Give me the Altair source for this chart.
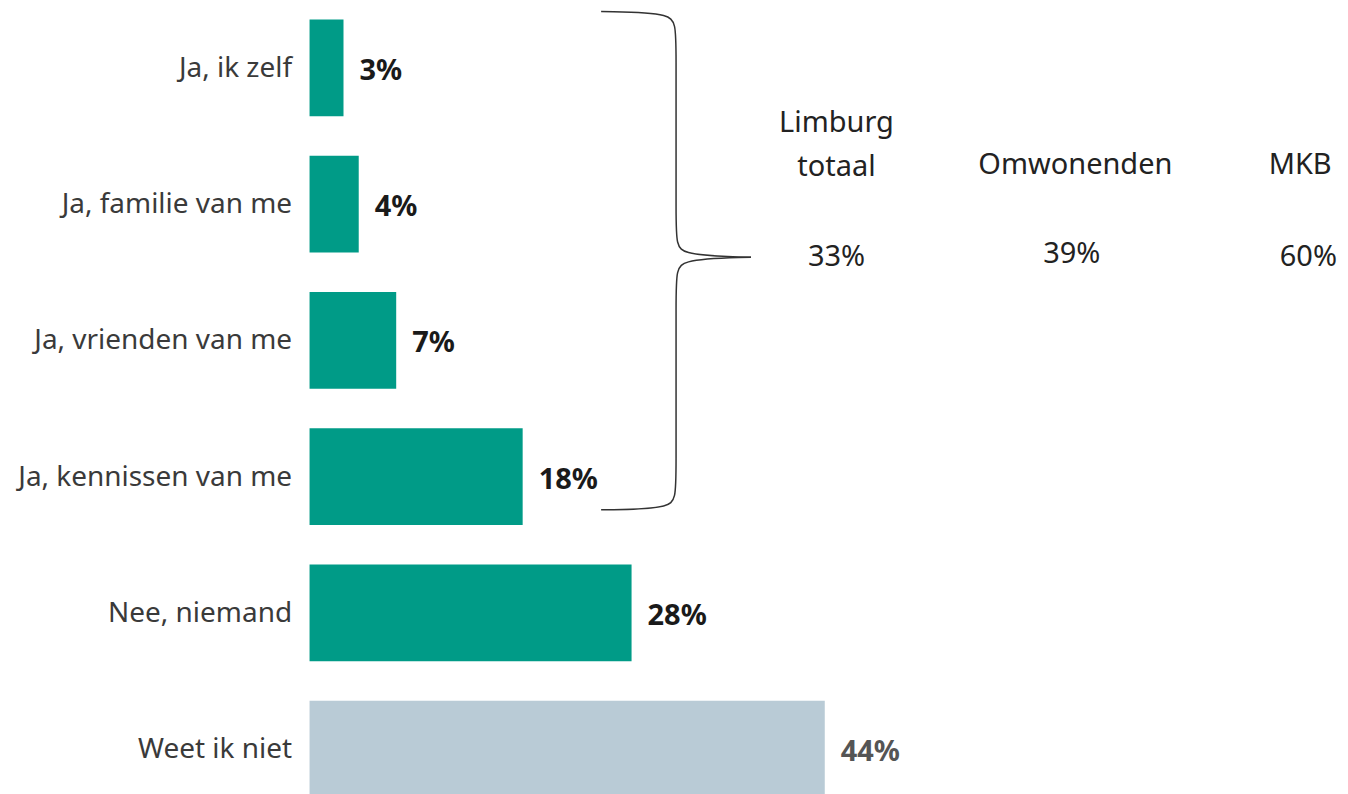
import altair as alt
import pandas as pd

# --- data ---
categories = ["Ja, ik zelf", "Ja, familie van me", "Ja, vrienden van me",
              "Ja, kennissen van me", "Nee, niemand", "Weet ik niet"]
values = [2.9, 4.2, 7.4, 18.2, 27.5, 44.0]
value_labels = ["3%", "4%", "7%", "18%", "28%", "44%"]
groups = ["teal", "teal", "teal", "teal", "teal", "grey"]
bar_colors = ["#009B87", "#009B87", "#009B87", "#009B87", "#009B87", "#B9CBD6"]
label_colors = ["#1a1a1a", "#1a1a1a", "#1a1a1a", "#1a1a1a", "#1a1a1a", "#555555"]

# right-hand comparison block
cmp_text = ["Limburg", "totaal", "Omwonenden", "MKB", "33%", "39%", "60%"]
cmp_x = [45.0, 45.0, 65.4, 84.6, 45.0, 65.1, 85.3]      # in % units of the bar axis
cmp_y = [114, 158, 156, 156, 248, 245, 248]            # pixel rows of the annotation layer

# curly brace (annotation), x in % units, y in annotation pixel rows
brace_x = [24.9, 31.3, 31.3, 31.3, 31.3, 37.7,
           37.7, 31.3, 31.3, 31.3, 31.3, 24.9]
brace_y = [2, 3, 22, 228, 246, 248,
           248, 250, 268, 482, 500, 501]
brace_part = ["top"] * 6 + ["bottom"] * 6
brace_order = list(range(12))

W = 1032
H = 799
XMAX = 88
FONT = "Noto Sans"

df = pd.DataFrame({"cat": categories, "val": values, "lab": value_labels, "grp": groups,
                   "bc": bar_colors, "lc": label_colors})
cmp_df = pd.DataFrame({"t": cmp_text, "x": cmp_x, "y": cmp_y})
brace_df = pd.DataFrame({"x": brace_x, "y": brace_y, "part": brace_part, "o": brace_order})

xscale = alt.Scale(domain=[0, XMAX], nice=False, zero=True)
yband = alt.Scale(paddingInner=0.29, paddingOuter=0.073)

bars = alt.Chart(df).mark_bar().encode(
    x=alt.X("val:Q", scale=xscale, axis=None),
    y=alt.Y("cat:N", sort=categories, scale=yband,
            axis=alt.Axis(title=None, domain=False, ticks=False, labelFont=FONT,
                          labelFontSize=28, labelColor="#3a3a3a", labelPadding=18,
                          labelOffset=1,
                          minExtent=302, maxExtent=302, labelLimit=400)),
    color=alt.Color("bc:N", scale=None, legend=None),
)

labels = alt.Chart(df).mark_text(align="left", baseline="middle", dx=16, dy=3,
                                 font=FONT, fontSize=29, fontWeight="bold").encode(
    x=alt.X("val:Q", scale=xscale, axis=None),
    y=alt.Y("cat:N", sort=categories, scale=yband),
    text="lab:N",
    color=alt.Color("lc:N", scale=None, legend=None),
)

base = alt.layer(bars, labels)

pyscale = alt.Scale(domain=[H, 0], nice=False, zero=False)

cmp = alt.Chart(cmp_df).mark_text(align="center", baseline="middle", font=FONT,
                                  fontSize=29, color="#222222").encode(
    x=alt.X("x:Q", scale=xscale, axis=None),
    y=alt.Y("y:Q", scale=pyscale, axis=None),
    text="t:N",
)

brace = alt.Chart(brace_df).mark_line(interpolate="basis", color="#333333",
                                      strokeWidth=1.5).encode(
    x=alt.X("x:Q", scale=xscale, axis=None),
    y=alt.Y("y:Q", scale=pyscale, axis=None),
    detail="part:N",
    order="o:Q",
)

annot = alt.layer(cmp, brace)

chart = alt.layer(base, annot).resolve_scale(y="independent").properties(
    width=W, height=H, padding=0
).configure_view(stroke=None)

chart.save("out.html", embed_options={"renderer": "svg", "actions": False})
